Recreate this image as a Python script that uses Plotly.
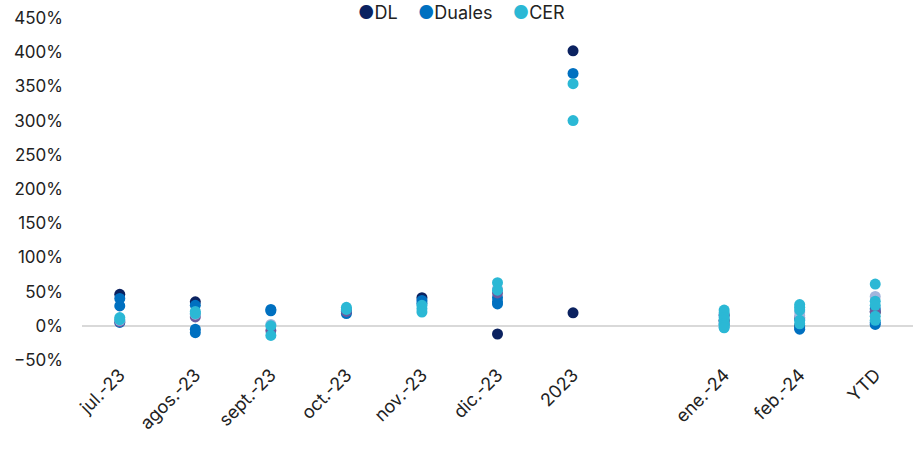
import plotly.graph_objects as go

categories = ["jul.-23", "agos.-23", "sept.-23", "oct.-23", "nov.-23", "dic.-23",
              "2023", " ", "ene.-24", "feb.-24", "YTD"]

# values in %, one list per category
dl = [[46], [35], [], [22], [41], [-12], [402, 19], [], [8], [0], [20]]
duales = [[40, 29, 5], [30, -5, -10], [24, 22], [18, 20], [37, 33], [41, 35, 32],
          [369], [], [15, 2], [-3, -5, 10], [2, 5, 25]]
otros_a = [[6], [13], [-7], [21], [], [48], [], [], [16, 6], [12], [21]]
otros_b = [[8], [17], [2], [], [], [54], [], [], [-2], [20, 15], [43]]
cer = [[12, 9], [21, 18], [0, -14], [27, 24], [30, 25, 20], [63, 52], [354, 300],
       [], [23, 19, 12, 8, 3, 0, -3], [31, 27, 23, 8, 3], [61, 36, 30, 14, 8]]


def flatten(series):
    xs, ys = [], []
    for cat, vals in zip(categories, series):
        for v in vals:
            xs.append(cat)
            ys.append(v)
    return xs, ys


fig = go.Figure()

traces = [
    ("DL", dl, "#0b2260", True),
    ("Duales", duales, "#0070c0", True),
    ("otros_a", otros_a, "#6b5b9e", False),
    ("otros_b", otros_b, "#a3b5dc", False),
    ("CER", cer, "#2bb8d5", True),
]
legend_parts = []
for name, series, color, show in traces:
    xs, ys = flatten(series)
    fig.add_trace(go.Scatter(x=xs, y=ys, mode="markers", name=name, showlegend=False,
                             marker=dict(size=11, color=color)))
    if show:
        legend_parts.append(f"<span style='color:{color}'>●</span>{name}")

# compact legend like the original (marker right next to the text)
fig.add_annotation(text="    ".join(legend_parts), xref="paper", yref="paper",
                   x=0.457, y=1.015, xanchor="center", yanchor="middle",
                   showarrow=False, font=dict(size=18, color="#222"))

fig.update_layout(
    width=913, height=450,
    margin=dict(l=82, r=0, t=18, b=90),
    paper_bgcolor="white", plot_bgcolor="white",
    font=dict(family="Inter, Roboto, sans-serif", size=17, color="#222"),
    showlegend=False,
    xaxis=dict(type="category", categoryorder="array", categoryarray=categories,
               range=[-0.5, len(categories) - 0.5], automargin=False,
               showgrid=False, showline=False, tickangle=-45,
               tickfont=dict(size=18), ticks=""),
    yaxis=dict(range=[-50, 450], dtick=50, ticksuffix="%", showgrid=False,
               zeroline=True, zerolinecolor="#d9d9d9", zerolinewidth=2, automargin=False,
               showline=False, tickfont=dict(size=17), ticklabelstandoff=18),
)

# drop the default 8px body margin so the chart fills the window
fig.write_html("out.html", config={"displayModeBar": False},
               post_script="document.body.style.margin='0';")
